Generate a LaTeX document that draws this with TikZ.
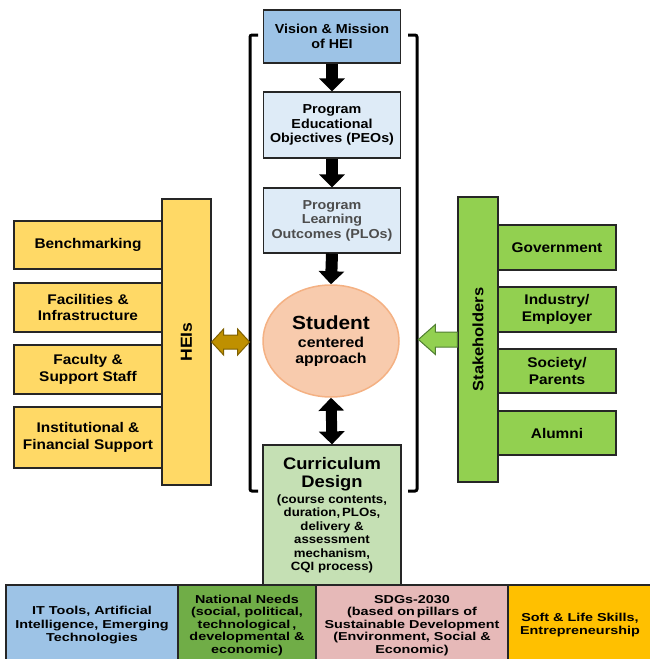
\documentclass[tikz,border=0pt]{standalone}
\usepackage{fontspec}
\setmainfont[FakeStretch=1.1]{Liberation Sans}
\newfontfamily\btmfont[FakeStretch=1.25]{Liberation Sans}
\usetikzlibrary{shapes.geometric,arrows.meta,calc}
\definecolor{visionblue}{HTML}{9DC3E6}
\definecolor{lightblue}{HTML}{DEEBF7}
\definecolor{studfill}{HTML}{F8CBAD}
\definecolor{studline}{HTML}{F4B183}
\definecolor{currgreen}{HTML}{C5E0B4}
\definecolor{heigold}{HTML}{FFD966}
\definecolor{stakegreen}{HTML}{92D050}
\definecolor{natgreen}{HTML}{70AD47}
\definecolor{sdgpink}{HTML}{E6B9B8}
\definecolor{softorange}{HTML}{FFC000}
\definecolor{goldarrow}{HTML}{BF9000}
\definecolor{goldline}{HTML}{7F6000}
\definecolor{greenline}{HTML}{507E32}
\definecolor{boxline}{HTML}{262626}
\definecolor{plotext}{HTML}{4D4D4D}
\tikzset{
  box/.style={draw=boxline, line width=1.2pt, align=center, inner sep=2pt, font=\bfseries},
  midbox/.style={box, minimum width=137pt, font=\bfseries\fontsize{13}{14.5}\selectfont},
  sidebox/.style={box, font=\bfseries\fontsize{14}{16.7}\selectfont},
  heibox/.style={sidebox, fill=heigold, minimum width=148pt},
  stkbox/.style={sidebox, fill=stakegreen, minimum width=118pt},
  btmbox/.style={box, line width=1.5pt, minimum height=81pt, font=\btmfont\bfseries\fontsize{11.5}{12.5}\selectfont},
  blkarrow/.style={line width=12pt, -{Triangle[width=25pt,length=13pt]}},
  dblarrow/.style={line width=11pt, {Triangle[width=25pt,length=13pt]}-{Triangle[width=25pt,length=13pt]}},
  bracketline/.style={line width=3pt, rounded corners=2pt},
}
\begin{document}
\begin{tikzpicture}[x=1pt,y=-1pt]
\useasboundingbox (0,0) rectangle (650,659);

% central column
\node[midbox, fill=visionblue, minimum height=53pt, font=\bfseries\fontsize{13}{15}\selectfont] (vision) at (332,36.5) {Vision \& Mission\\of HEI};
\node[midbox, fill=lightblue, minimum height=66pt] (peo) at (332,125) {Program\\Educational\\Objectives (PEOs)};
\node[midbox, fill=lightblue, minimum height=65pt, text=plotext] (plo) at (332,220.5) {Program\\Learning\\Outcomes (PLOs)};
\node[ellipse, draw=studline, fill=studfill, line width=1.5pt, minimum width=136pt, minimum height=112pt, inner sep=0pt, align=center, font=\bfseries\fontsize{14.4}{16}\selectfont] (student) at (331,341) {\fontsize{19}{22}\selectfont Student\\[2pt]centered\\approach};
\node[box, fill=currgreen, minimum width=138pt, minimum height=140pt, font=\bfseries\fontsize{12}{13.4}\selectfont] (curr) at (332,515) {\fontsize{16.7}{18.3}\selectfont Curriculum\\[5pt]\fontsize{16.7}{18.3}\selectfont Design\\[2.6pt](course contents,\\duration,\,PLOs,\\delivery \&\\assessment\\mechanism,\\CQI process)};

\draw[blkarrow] (vision.south) -- (peo.north);
\draw[blkarrow] (peo.south) -- (plo.north);
\draw[blkarrow] (plo.south) -- (student.north);
\draw[dblarrow] (student.south) -- (curr.north);

% brackets
\draw[bracketline] (258,35) -- (250,35) -- (250,491) -- (258,491);
\draw[bracketline] (408,35) -- (417,35) -- (417,491) -- (408,491);

% HEIs side
\node[box, fill=heigold, rotate=90, minimum width=286pt, minimum height=49pt, font=\bfseries\fontsize{16}{18}\selectfont] (heis) at (186.5,342) {HEIs};
\node[heibox, minimum height=48pt] (bench) at (88,245) {Benchmarking};
\node[heibox, minimum height=49pt] (facil) at (88,307.5) {Facilities \&\\Infrastructure};
\node[heibox, minimum height=49pt] (faculty) at (88,369.5) {Faculty \&\\Support Staff};
\node[heibox, minimum height=61pt] (inst) at (88,437.5) {Institutional \&\\Financial Support};
\draw[draw=goldline, fill=goldarrow, line width=1pt, line join=miter]
  (heis.south) -- ++(12,-13) -- ++(0,6) -- ++(14,0) -- ++(0,-6) -- ++(12,13)
  -- ++(-12,13) -- ++(0,-6) -- ++(-14,0) -- ++(0,6) -- cycle;

% Stakeholders side
\node[box, fill=stakegreen, rotate=90, minimum width=285pt, minimum height=40pt, font=\bfseries\fontsize{15}{17}\selectfont] (stake) at (478,339.5) {Stakeholders};
\node[stkbox, minimum height=45pt] (gov) at (557,247.5) {Government};
\node[stkbox, minimum height=45pt] (ind) at (557,309.5) {Industry/\\Employer};
\node[stkbox, minimum height=44pt] (soc) at (557,371) {Society/\\Parents};
\node[stkbox, minimum height=44pt] (alum) at (557,433) {Alumni};
\draw[draw=greenline, fill=stakegreen, line width=1pt, line join=miter]
  (stake.north) ++(0,-7.5) -- ++(-22,0) -- ++(0,-7.5) -- ++(-17,15) -- ++(17,15)
  -- ++(0,-7.5) -- ++(22,0) -- cycle;

% bottom row
\node[btmbox, fill=visionblue, minimum width=172pt, font=\btmfont\bfseries\fontsize{11.5}{13.5}\selectfont] (it) at (92,625.5) {IT Tools, Artificial\\Intelligence, Emerging\\Technologies};
\node[btmbox, fill=natgreen, minimum width=138pt] (nat) at (247,625.5) {National Needs\\(social, political,\\technological\,,\\developmental \&\\economic)};
\node[btmbox, fill=sdgpink, minimum width=192pt] (sdg) at (412,625.5) {SDGs-2030\\(based on\,pillars of\\Sustainable Development\\(Environment, Social \&\\Economic)};
\node[btmbox, fill=softorange, minimum width=144pt, font=\btmfont\bfseries\fontsize{11.5}{13}\selectfont] (soft) at (580,625.5) {Soft \& Life Skills,\\Entrepreneurship};
\end{tikzpicture}
\end{document}
